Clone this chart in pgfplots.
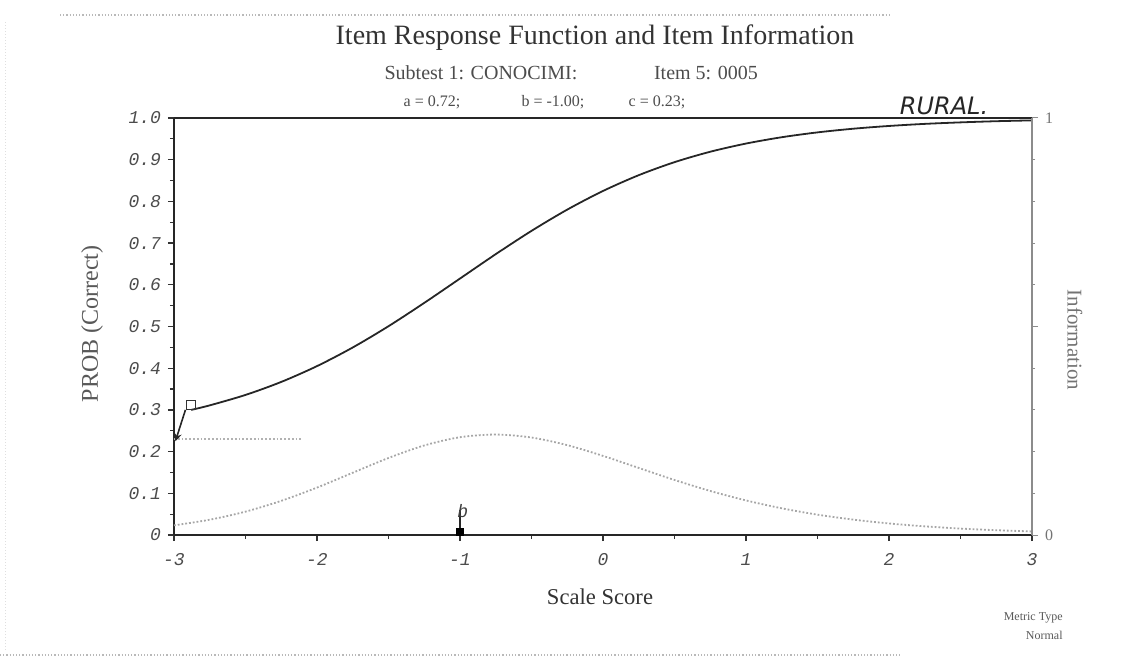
\documentclass[border=0pt]{standalone}
\usepackage{pgfplots}
\pgfplotsset{compat=1.18}
\usepackage{fontspec}
\setmainfont{Liberation Serif}
\newfontfamily\tickfont{Liberation Mono}
\newfontfamily\handfont{DejaVu Sans}
\begin{document}
\begin{tikzpicture}
\useasboundingbox (0,0) rectangle (568pt,335pt);
% page borders (dotted)
\draw[gray!55, densely dotted, line width=0.6pt] (30pt,327.5pt) -- (445pt,327.5pt);
\draw[gray!55, densely dotted, line width=0.6pt] (0pt,7.5pt) -- (450pt,7.5pt);
\draw[gray!25, densely dotted, line width=0.5pt] (2.5pt,10pt) -- (2.5pt,325pt);
% titles
\node[font=\fontsize{14}{14}\selectfont, text=black!80] at (297.5pt,316pt) {Item Response Function and Item Information};
\node[font=\fontsize{10}{10}\selectfont, text=black!70] at (240.5pt,298.5pt) {Subtest 1: CONOCIMI:};
\node[font=\fontsize{10}{10}\selectfont, text=black!70] at (353pt,298.5pt) {Item 5: 0005};
\node[font=\fontsize{8}{8}\selectfont, text=black!70] at (216pt,284pt) {a = 0.72;};
\node[font=\fontsize{8}{8}\selectfont, text=black!70] at (276.5pt,284pt) {b = -1.00;};
\node[font=\fontsize{8}{8}\selectfont, text=black!70] at (328.5pt,284pt) {c = 0.23;};
\node[font=\handfont\itshape\fontsize{12}{12}\selectfont, text=black!85] at (472pt,282pt) {RURAL.};
% axis labels
\node[font=\fontsize{12}{12}\selectfont, text=black!65, rotate=90] at (46pt,173pt) {PROB (Correct)};
\node[font=\fontsize{11.3}{11.3}\selectfont, text=black!80] at (300pt,36.5pt) {Scale Score};
\node[font=\fontsize{10.5}{10.5}\selectfont, text=black!55, rotate=-90] at (537.5pt,165pt) {Information};
\node[font=\fontsize{6}{6}\selectfont, text=black!65, anchor=east, inner sep=0pt] at (531.5pt,26pt) {Metric Type};
\node[font=\fontsize{6}{6}\selectfont, text=black!65, anchor=east, inner sep=0pt] at (531.5pt,17.5pt) {Normal};
\begin{axis}[
  at={(87pt,67.5pt)}, anchor=south west,
  scale only axis, width=429pt, height=208.5pt,
  xmin=-3, xmax=3, ymin=0, ymax=1,
  axis y line*=left,
  xtick pos=bottom,
  xtick={-3,-2,-1,0,1,2,3},
  xticklabels={-3,-2,-1,0,1,2,3},
  ytick={0,0.1,0.2,0.3,0.4,0.5,0.6,0.7,0.8,0.9,1},
  yticklabels={0,0.1,0.2,0.3,0.4,0.5,0.6,0.7,0.8,0.9,1.0},
  minor x tick num=1, minor y tick num=1,
  tick align=outside,
  major tick length=3pt, minor tick length=2pt,
  /pgf/number format/assume math mode=true,
  ticklabel style={font=\tickfont\itshape\fontsize{9}{9}\selectfont, text=black!70},
  xticklabel style={yshift=-2pt, text height=6.5pt, text depth=1pt},
  axis line style={black!85, line width=0.8pt},
  every tick/.style={black!80, line width=0.6pt},
  clip=false,
]
% item information (dotted)
\addplot[gray!70, densely dotted, line width=0.9pt, smooth] coordinates {
(-3,0.0231) (-2.75,0.0367) (-2.5,0.0560) (-2.25,0.0819) (-2,0.1137) (-1.75,0.1493)
(-1.5,0.1847) (-1.25,0.2147) (-1,0.2345) (-0.75,0.2409) (-0.5,0.2338) (-0.25,0.2155)
(0,0.1897) (0.25,0.1608) (0.5,0.1320) (0.75,0.1056) (1,0.0829) (1.25,0.0640)
(1.5,0.0488) (1.75,0.0369) (2,0.0277) (2.25,0.0207) (2.5,0.0154) (2.75,0.0115) (3,0.0085)
};
% lower asymptote c
\addplot[gray!60, densely dotted, line width=0.9pt] coordinates {(-3,0.23) (-2.1,0.23)};
% item response function
\addplot[black!85, line width=0.9pt, smooth] coordinates {
(-2.88,0.300) (-2.75,0.3109) (-2.5,0.3359) (-2.25,0.3671) (-2,0.4050) (-1.75,0.4497)
(-1.5,0.5007) (-1.25,0.5566) (-1,0.6150) (-0.75,0.6735) (-0.5,0.7293) (-0.25,0.7803)
(0,0.8250) (0.25,0.8629) (0.5,0.8941) (0.75,0.9191) (1,0.9387) (1.25,0.9539)
(1.5,0.9655) (1.75,0.9743) (2,0.9809) (2.25,0.9859) (2.5,0.9895) (2.75,0.9923) (3,0.9943)
};
% arrow to c
\addplot[black!85, line width=0.8pt, -stealth] coordinates {(-2.92,0.30) (-2.99,0.225)};
\addplot[black!80, only marks, mark=square, mark size=2.2pt, mark options={line width=0.6pt}] coordinates {(-2.88,0.312)};
% b marker
\addplot[black!85, line width=0.7pt] coordinates {(-1,0) (-1,0.06)};
\addplot[black, only marks, mark=square*, mark size=1.8pt] coordinates {(-1,0.008)};
\node[font=\tickfont\itshape\fontsize{9}{9}\selectfont, text=black!75] at (axis cs:-0.98,0.058) {b};
\end{axis}
\begin{axis}[
  at={(87pt,67.5pt)}, anchor=south west,
  scale only axis, width=429pt, height=208.5pt,
  xmin=-3, xmax=3, ymin=0, ymax=1,
  hide x axis,
  axis y line*=right,
  ytick={0,0.5,1}, yticklabels={0,,1},
  minor y tick num=4,
  tick align=outside,
  major tick length=3pt, minor tick length=1.5pt,
  axis line style={black!45, line width=0.7pt},
  every tick/.style={black!45, line width=0.5pt},
  ticklabel style={font=\fontsize{8}{8}\selectfont, text=black!55},
]
\addplot[draw=none] coordinates {(-3,0) (3,1)};
\end{axis}
\end{tikzpicture}
\end{document}
